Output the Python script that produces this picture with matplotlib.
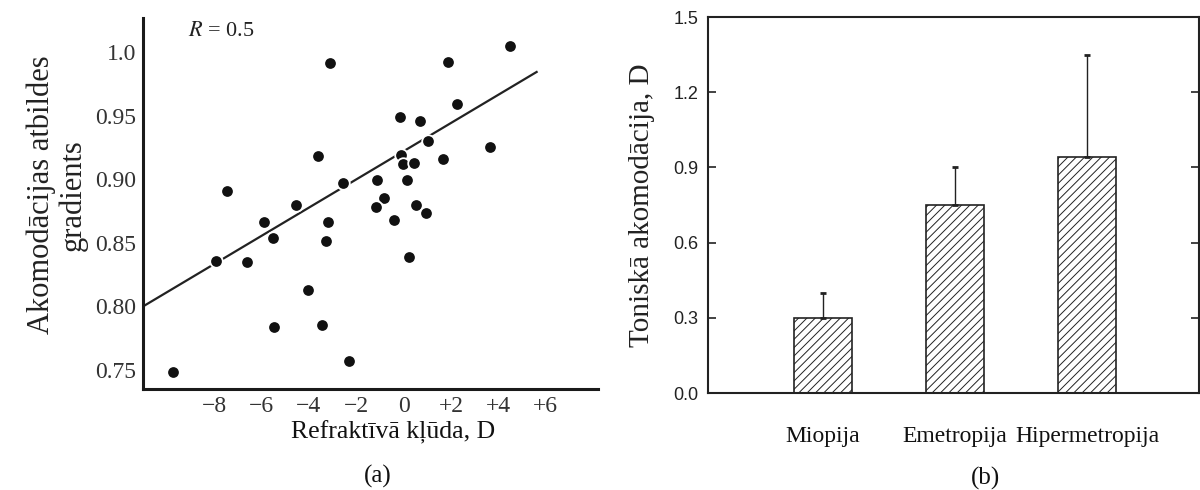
import numpy as np
import matplotlib
matplotlib.use('Agg')
import matplotlib.pyplot as plt

plt.rcParams['font.family'] = ['Liberation Serif', 'DejaVu Serif']
plt.rcParams['mathtext.fontset'] = 'stix'
plt.rcParams['hatch.linewidth'] = 0.7
plt.rcParams['hatch.color'] = '#444444'

# ── (a) scatter: refractive error vs accommodative response gradient ──
refr_err = [4.47, -3.12, 1.86, 2.24, -0.17, 0.68, 1.01, 3.63, -3.63, -0.13,
            -0.04, 0.42, 1.65, -7.47, -2.57, -1.14, 0.13, -0.84, -1.18, 0.51,
            0.93, -4.56, -5.91, -3.21, -0.42, -5.53, -3.29, -7.93, -6.62, 0.21,
            -4.05, -5.49, -3.46, -2.32, -9.75]
gradient = [1.005, 0.991, 0.992, 0.959, 0.949, 0.946, 0.930, 0.925, 0.918, 0.919,
            0.912, 0.913, 0.916, 0.891, 0.897, 0.899, 0.899, 0.885, 0.878, 0.880,
            0.873, 0.880, 0.866, 0.866, 0.868, 0.854, 0.851, 0.836, 0.835, 0.839,
            0.813, 0.784, 0.785, 0.757, 0.748]
fit_x = [-11.0, 5.65]
fit_intercept = 0.922
fit_slope = 0.0111
x_ticks = [-8, -6, -4, -2, 0, 2, 4, 6]
x_ticklabels = ['\u22128', '\u22126', '\u22124', '\u22122', '0', '+2', '+4', '+6']
y_ticks = [0.75, 0.80, 0.85, 0.90, 0.95, 1.0]
y_ticklabels = ['0.75', '0.80', '0.85', '0.90', '0.95', '1.0']

# ── (b) bars: tonic accommodation by refractive group ──
groups = ['Miopija', 'Emetropija', 'Hipermetropija']
tonic_mean = [0.30, 0.75, 0.94]
tonic_err = [0.10, 0.15, 0.41]
b_ticks = [0.0, 0.3, 0.6, 0.9, 1.2, 1.5]

fig = plt.figure(figsize=(12, 4.9), dpi=100, facecolor='white')

# ── panel (a) ─────────────────────────────────────────────
ax1 = fig.add_axes([143/1200, 101/490, 455/1200, 371/490])
ax1.set_xlim(-11, 8.2)
ax1.set_ylim(0.735, 1.0267)
xs = np.array(fit_x)
ax1.plot(xs, fit_intercept + fit_slope * xs, color='#222222', lw=1.6, zorder=2,
         solid_capstyle='butt')
ax1.scatter(refr_err, gradient, s=82, color='#111111', edgecolors='white',
            linewidths=1.3, zorder=3, clip_on=False)
ax1.text(-9.1, 1.0157, '$R$ = 0.5', fontsize=16, ha='left', va='center', color='#222222')
for sp in ['top', 'right']:
    ax1.spines[sp].set_visible(False)
for sp in ['left', 'bottom']:
    ax1.spines[sp].set_linewidth(2.2)
    ax1.spines[sp].set_color('#1a1a1a')
ax1.set_xticks(x_ticks)
ax1.set_xticklabels(x_ticklabels)
ax1.set_yticks(y_ticks)
ax1.set_yticklabels(y_ticklabels)
ax1.tick_params(length=0, labelsize=17, colors='#333333')
ax1.tick_params(axis='x', pad=5)
ax1.tick_params(axis='y', pad=5)

fig.text(57/1200, 1 - 195/490, 'Akomodācijas atbildes\ngradients', rotation=90,
         ha='center', va='center', fontsize=22, multialignment='center',
         linespacing=1.1, color='#222222')
fig.text(393/1200, 1 - 432/490, 'Refraktīvā kļūda, D', ha='center', va='center',
         fontsize=18.5, color='#111111')
fig.text(378/1200, 1 - 476/490, '(a)', ha='center', va='center', fontsize=18,
         color='#111111')

# ── panel (b) ─────────────────────────────────────────────
ax2 = fig.add_axes([708/1200, 97/490, 491/1200, 376/490])
pos = np.arange(1, len(groups) + 1)
ax2.bar(pos, tonic_mean, width=0.44, color='white', edgecolor='#222222',
        linewidth=1.2, hatch='////', zorder=2)
ax2.errorbar(pos, tonic_mean, yerr=[np.zeros(len(pos)), tonic_err], fmt='none',
             ecolor='#222222', elinewidth=1.0, capsize=2, capthick=2, zorder=3)
ax2.set_xlim(0.132, 3.845)
ax2.set_ylim(0, 1.5)
ax2.set_yticks(b_ticks)
ax2.set_yticklabels([f'{v:.1f}' for v in b_ticks], family='Liberation Sans')
ax2.set_xticks(pos)
ax2.set_xticklabels(groups)
ax2.tick_params(axis='y', direction='in', length=6, width=1.2, labelsize=13,
                pad=7, right=True, colors='#222222')
ax2.tick_params(axis='x', length=0, labelsize=17, pad=24, colors='#111111')
for sp in ax2.spines.values():
    sp.set_linewidth(1.5)
    sp.set_color('#222222')

fig.text(642/1200, 1 - 205/490, 'Toniskā akomodācija, D', rotation=90,
         ha='center', va='center', fontsize=21, color='#222222')
fig.text(985/1200, 1 - 478/490, '(b)', ha='center', va='center', fontsize=18,
         color='#111111')

fig.savefig('out.png', dpi=100, facecolor='white')
